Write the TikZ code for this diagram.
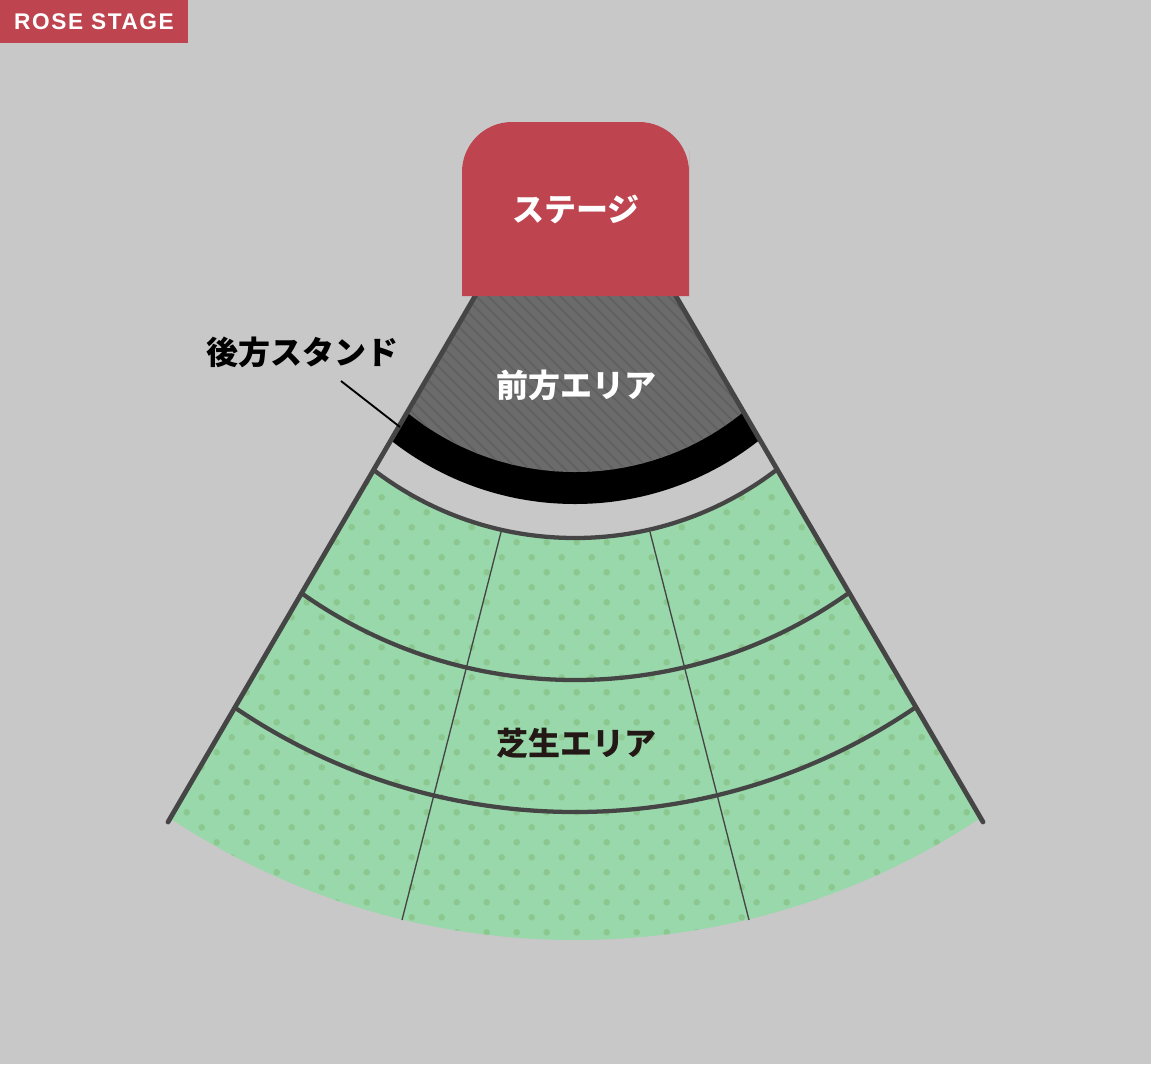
\documentclass[tikz,border=0pt]{standalone}
\usepackage{fontspec}
\setmainfont{Liberation Sans}
\newfontfamily\jpfont{Noto Sans CJK JP}
\usepackage{tikz}

\definecolor{bgGray}{HTML}{C8C8C8}
\definecolor{roseRed}{HTML}{BE4550}
\definecolor{frontGray}{HTML}{6B6B6B}
\definecolor{hatchGray}{HTML}{5F5F5F}
\definecolor{lawnGreen}{HTML}{99D8AA}
\definecolor{dotGreen}{HTML}{8CC78F}
\definecolor{rimGray}{HTML}{454545}
\definecolor{inkBlack}{HTML}{231815}

\begin{document}
\begin{tikzpicture}[x=0.75pt,y=0.75pt,yscale=-1,xscale=1,
  rimline/.style={draw=rimGray,line width=3.6pt,line cap=round},
  seatarc/.style={draw=rimGray,line width=3.2pt},
  divider/.style={draw=rimGray,line width=1pt},
  jptext/.style={font=\jpfont\bfseries\fontsize{24}{28}\selectfont,inner sep=0.75pt}]
%set diagram to 1151 x 1064
\useasboundingbox (0,0) rectangle (1151,1064);
\fill[bgGray] (0,0) rectangle (1151,1064);

\coordinate (apex) at (575.5,124);
\coordinate (hub) at (575,206);
\coordinate (leftTop) at (486.8,276);
\coordinate (rightTop) at (664.2,276);
\coordinate (leftEnd) at (168,822);
\coordinate (rightEnd) at (983,822);

\begin{scope}
%Wedge clip
\clip (apex) -- (64.2,1000) -- (1086.8,1000) -- cycle;
%Shape: Lawn area with dots
\begin{scope}
\clip (hub) circle (734);
\fill[lawnGreen] (hub) circle (734);
\foreach \row in {0,...,34} {
  \pgfmathsetmacro{\dy}{437.3+15*\row}
  \pgfmathsetmacro{\dx}{mod(\row,2)==0 ? 21.7 : 6.7}
  \foreach \col in {0,...,38}
    \fill[dotGreen] (\dx+30*\col,\dy) circle (3.3);
}
\end{scope}
%Shape: Gap between stand and lawn
\fill[bgGray] (hub) circle (332);
%Shape: Rear stand band
\fill[black] (hub) circle (298);
%Shape: Front area with hatch
\begin{scope}
\clip (hub) circle (266);
\fill[frontGray] (0,0) rectangle (1151,600);
\foreach \hx in {100,112,...,800}
  \draw[hatchGray,line width=1.1pt] (\hx,280) -- ++(300,300);
\end{scope}
%Arcs
\draw[seatarc] (hub) circle (332);
\draw[seatarc] (hub) circle (474);
\draw[seatarc] (hub) circle (606);
\end{scope}

%Straight Lines: dividers
\draw[divider] (501,532) -- (402,920);
\draw[divider] (650,532) -- (749,920);
%Straight Lines: rim
\draw[rimline] (leftTop) -- (leftEnd);
\draw[rimline] (rightTop) -- (rightEnd);

%Shape: Stage
\fill[roseRed] (462,296) -- (462,200) [rounded corners=37.5pt] -- (462,122) -- (689,122) -- (689,200) [sharp corners] -- (689,296) -- cycle;

%Shape: Title box
\fill[roseRed] (0,0) rectangle (188,43);

% Text Node
\node[font=\bfseries\fontsize{17}{20}\selectfont\addfontfeature{LetterSpace=7},text=white,inner sep=0pt] (title) at (94,21.5) {ROSE STAGE};
% Text Node
\node[jptext,text=white] (stage) at (576,209) {ステージ};
% Text Node
\node[jptext,text=white] (front) at (576,385) {前方エリア};
% Text Node
\node[jptext,text=inkBlack] (lawn) at (576,743) {芝生エリア};
% Text Node
\node[jptext,text=black] (stand) at (302,352) {後方スタンド};

%Straight Lines: leader
\coordinate (leadStart) at (341,381);
\coordinate (standTip) at (400,427);
\draw[black,line width=1.4pt] (leadStart) -- (standTip);

\end{tikzpicture}
\end{document}
